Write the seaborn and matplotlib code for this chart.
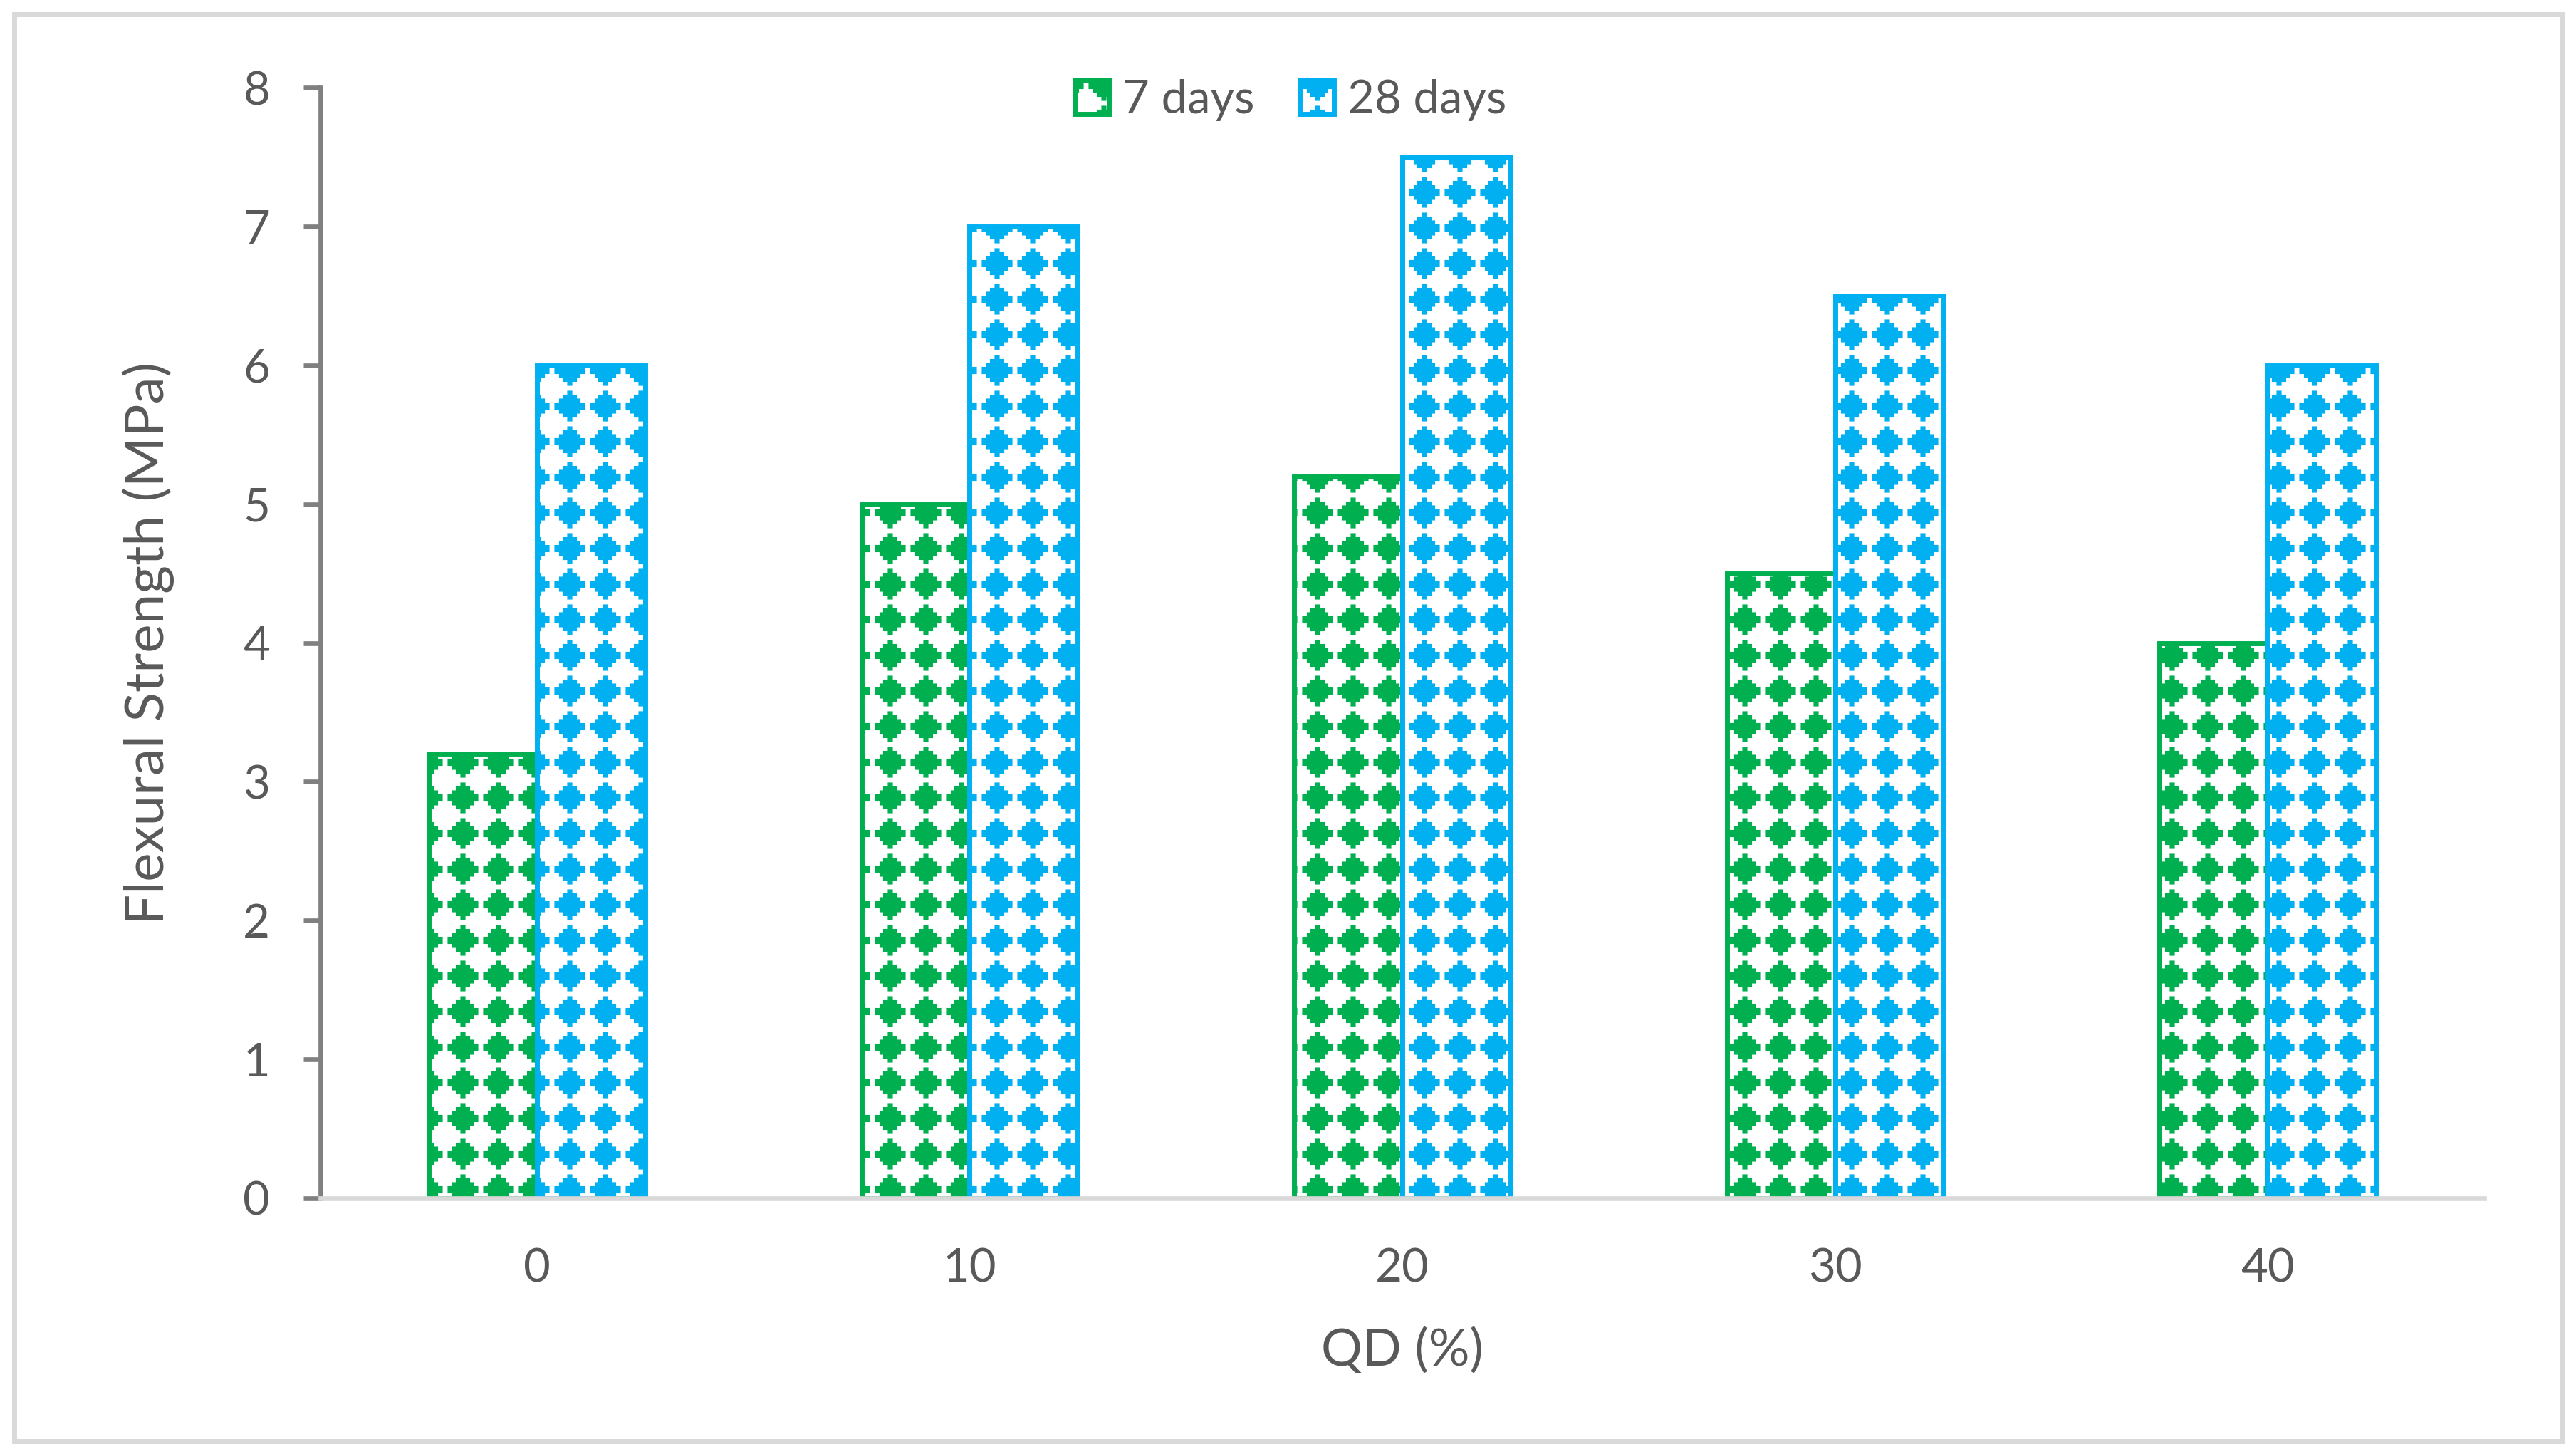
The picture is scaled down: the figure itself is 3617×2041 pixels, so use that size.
import numpy as np
import pandas as pd
import matplotlib
matplotlib.use("Agg")
import matplotlib.pyplot as plt
import matplotlib.hatch as mhatch
from matplotlib.path import Path
from matplotlib.patches import Patch, Rectangle
import seaborn as sns

# ---------------- data ----------------
qd_levels = ["0", "10", "20", "30", "40"]
days_7 = [3.2, 5.0, 5.2, 4.5, 4.0]
days_28 = [6.0, 7.0, 7.5, 6.5, 6.0]
series_names = ["7 days", "28 days"]
series_colors = ["#00B050", "#00B0F0"]
y_ticks = [0, 1, 2, 3, 4, 5, 6, 7, 8]


# ---------------- custom hatch: square grid of stepped diamonds ----------------
def _stepped_diamond():
    # (half-width, y-upper) steps in hatch-tile units (tile = 100 px)
    steps = [(0.215, 0.05), (0.15, 0.105), (0.10, 0.16), (0.035, 0.215)]
    right = []
    for hw, yu in steps:
        if right:
            right.append((hw, right[-1][1]))
        else:
            right.append((hw, 0.0))
        right.append((hw, yu))
    upper_right = right  # from y=0 up to top
    # build full outline clockwise starting at top-left of top step
    pts = []
    ur = upper_right[::-1]                      # top -> y=0 on right
    lr = [(x, -y) for x, y in upper_right]      # y=0 -> bottom on right
    ll = [(-x, y) for x, y in lr[::-1]]         # bottom -> y=0 on left
    ul = [(-x, y) for x, y in upper_right]      # y=0 -> top on left
    pts = ur + lr + ll + ul
    pts.append(pts[0])
    return np.array(pts, dtype=float)


class SquareDiamonds(mhatch.HatchPatternBase):
    shape = _stepped_diamond()

    def __init__(self, hatch, density):
        if hatch.count('*') > 0:
            us = [-0.5, 0.0, 0.5, 1.0, 1.5]
            vs = [-0.2, 0.3, 0.8, 1.3]
            self.centers = [(u, v) for u in us for v in vs]
            self.num_vertices = len(self.centers) * len(self.shape)
        else:
            self.centers = []
            self.num_vertices = 0

    def set_vertices_and_codes(self, vertices, codes):
        n = len(self.shape)
        code = np.full(n, Path.LINETO, dtype=Path.code_type)
        code[0] = Path.MOVETO
        code[-1] = Path.CLOSEPOLY
        parts = [self.shape + np.array(c) for c in self.centers]
        vertices[:] = np.concatenate(parts)
        codes[:] = np.tile(code, len(self.centers))


mhatch._hatch_types = [t for t in mhatch._hatch_types if t is not mhatch.Stars] + [SquareDiamonds]

# ---------------- style ----------------
sns.set_theme(style="white")
plt.rcParams['font.family'] = ['Lato', 'DejaVu Sans']
plt.rcParams['hatch.linewidth'] = 0.1
text_color = "#595959"

df = pd.DataFrame({
    "QD": qd_levels * 2,
    "value": days_7 + days_28,
    "age": [series_names[0]] * len(qd_levels) + [series_names[1]] * len(qd_levels),
})

W, H = 3617, 2041
fig = plt.figure(figsize=(W / 100, H / 100), dpi=100)
ax = fig.add_axes([450 / W, (H - 1682) / H, (3488 - 450) / W, (1682 - 123) / H])

sns.barplot(data=df, x="QD", y="value", hue="age", order=qd_levels,
            hue_order=series_names, palette=series_colors, width=0.5,
            ax=ax, legend=False, errorbar=None)

for container, col in zip(ax.containers, series_colors):
    for bar in container:
        bar.set_facecolor("white")
        bar.set_edgecolor(col)
        bar.set_hatch("*")
        bar.set_linewidth(5)

ax.set_xlim(-0.5, 4.5)
ax.set_ylim(0, 8)
ax.set_yticks(y_ticks)

for s in ["top", "right"]:
    ax.spines[s].set_visible(False)
ax.spines["left"].set_color("#808080")
ax.spines["left"].set_linewidth(4.8)
ax.spines["bottom"].set_color("#D9D9D9")
ax.spines["bottom"].set_linewidth(4.8)

ax.tick_params(axis="y", left=True, length=17, width=4.8, color="#808080",
               pad=34, labelsize=47, labelcolor=text_color)
ax.tick_params(axis="x", bottom=False, length=0, pad=50, labelsize=47,
               labelcolor=text_color)

ax.set_xlabel("QD (%)", fontsize=52, color=text_color, labelpad=38)
ax.set_ylabel("Flexural Strength (MPa)", fontsize=55, color=text_color)
ax.yaxis.set_label_coords((245 - 450) / (3488 - 450), 0.5)

handles = [Patch(facecolor="white", edgecolor=c, hatch="*", linewidth=5)
           for c in series_colors]
fig.legend(handles, series_names, loc="center",
           bbox_to_anchor=(1812 / W, 1 - 140 / H), ncol=2, frameon=False,
           fontsize=47, handlelength=0.74, handleheight=0.75,
           handletextpad=0.28, columnspacing=0.98, borderpad=0,
           labelcolor=text_color)

fig.patches.append(Rectangle((20 / W, 18 / H), 1 - 40 / W, 1 - 38 / H,
                             transform=fig.transFigure, fill=False,
                             edgecolor="#D9D9D9", linewidth=5, zorder=-1))

fig.savefig("out.png", dpi=100, facecolor="white")
